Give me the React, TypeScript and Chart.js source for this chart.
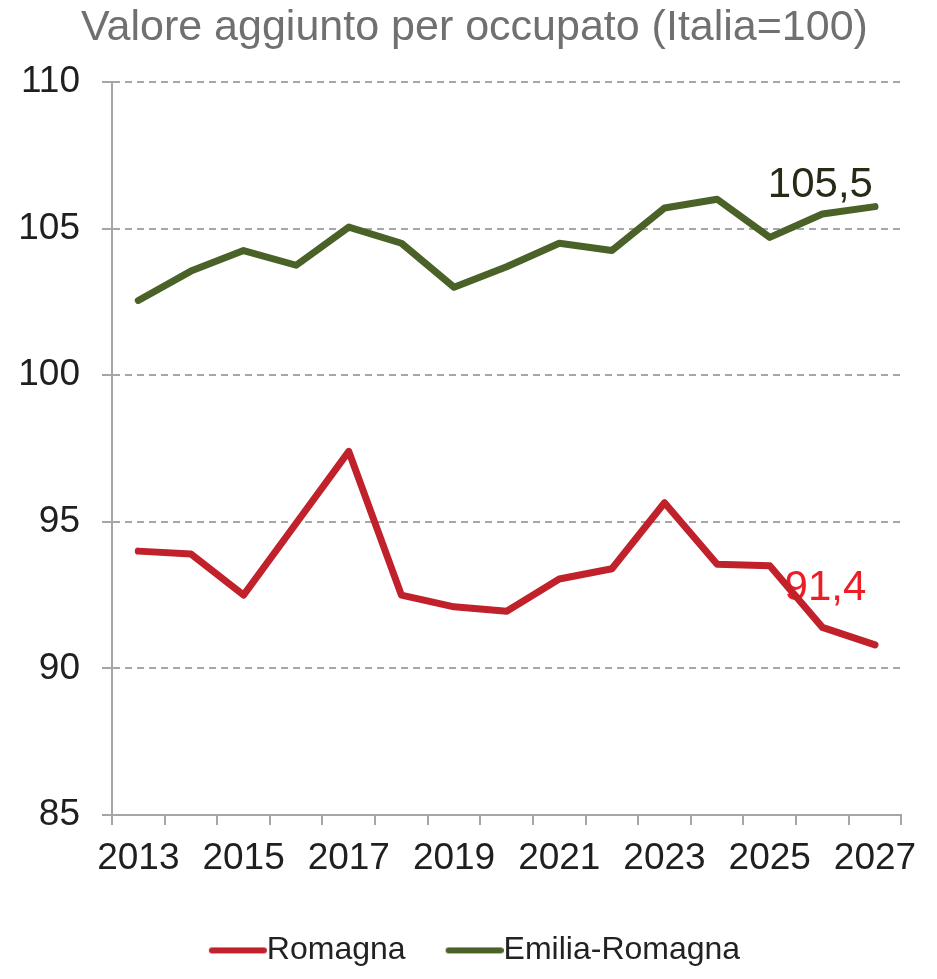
import React, { useEffect, useRef } from 'react';
import { Chart, registerables } from 'chart.js';

Chart.register(...registerables);

// ---- data ----
const years = ['2013', '2014', '2015', '2016', '2017', '2018', '2019', '2020', '2021', '2022', '2023', '2024', '2025', '2026', '2027'];
const romagna = [94.0, 93.9, 92.5, 94.95, 97.4, 92.5, 92.1, 91.95, 93.05, 93.4, 95.65, 93.55, 93.5, 91.4, 90.8];
const emiliaRomagna = [102.55, 103.55, 104.25, 103.75, 105.05, 104.5, 103.0, 103.7, 104.5, 104.25, 105.7, 106.0, 104.7, 105.5, 105.75];
const seriesNames = ['Romagna', 'Emilia-Romagna'];
const yMin = 85;
const yMax = 110;
const yStep = 5;
const titleText = 'Valore aggiunto per occupato (Italia=100)';
const labelYearIndex = 13; // 2026 value labels

// ---- styles ----
const FONT = "'Liberation Sans', Arial, sans-serif";
const RED = '#c0212b';
const GREEN = '#4a6127';
const AXIS_GRAY = '#a6a6a6';
const TEXT = '#1f1f1f';
const LEGEND_SHIFT = 13;

const valueLabels = [
  { dataset: 1, color: '#262b17', dx: -2, dy: -17 },
  { dataset: 0, color: '#ee1c25', dx: 3, dy: -27 },
];

function makeLegendLine(color: string) {
  const c = document.createElement('canvas');
  c.width = 74;
  c.height = 8;
  const g = c.getContext('2d')!;
  g.strokeStyle = color;
  g.lineWidth = 6;
  g.lineCap = 'round';
  g.beginPath();
  g.moveTo(19, 4);
  g.lineTo(71, 4);
  g.stroke();
  return c;
}

const legendShiftPlugin = {
  id: 'legendShift',
  afterLayout(chart: any) {
    const lg = chart.legend;
    if (lg) {
      lg.top += LEGEND_SHIFT;
      lg.bottom += LEGEND_SHIFT;
    }
  },
};

const valueLabelPlugin = {
  id: 'valueLabels',
  beforeDatasetsDraw(chart: any) {
    const { ctx, scales } = chart;
    const x = scales.x;
    const y = scales.y;
    valueLabels.forEach((l) => {
      const v = chart.data.datasets[l.dataset].data[labelYearIndex] as number;
      const px = x.getPixelForValue(labelYearIndex) + l.dx;
      const py = y.getPixelForValue(v) + l.dy;
      ctx.save();
      ctx.font = `42px ${FONT}`;
      ctx.fillStyle = l.color;
      ctx.textAlign = 'center';
      ctx.textBaseline = 'alphabetic';
      ctx.fillText(v.toFixed(1).replace('.', ','), px, py);
      ctx.restore();
    });
  },
};

export default function App() {
  const ref = useRef<HTMLCanvasElement | null>(null);

  useEffect(() => {
    if (!ref.current) return;
    Chart.defaults.font.family = FONT;
    const legendImgs = [makeLegendLine(RED), makeLegendLine(GREEN)];
    const lineStyle = {
      borderWidth: 7,
      borderJoinStyle: 'round',
      borderCapStyle: 'round',
      pointRadius: 0,
      tension: 0,
      fill: false,
    };
    const chart = new Chart(ref.current, {
      type: 'line',
      data: {
        labels: years,
        datasets: [
          { label: seriesNames[0], data: romagna, borderColor: RED, backgroundColor: RED, ...lineStyle },
          { label: seriesNames[1], data: emiliaRomagna, borderColor: GREEN, backgroundColor: GREEN, ...lineStyle },
        ],
      },
      options: {
        responsive: false,
        animation: false,
        devicePixelRatio: 1,
        layout: { padding: { left: 12, right: 0, top: 0, bottom: 7.6 } },
        plugins: {
          title: {
            display: true,
            text: titleText,
            color: '#707070',
            font: { size: 43, weight: 'normal', lineHeight: '40px' },
            padding: { top: 0, bottom: 34 },
          },
          legend: {
            display: true,
            position: 'bottom',
            labels: {
              usePointStyle: true,
              pointStyleWidth: 42,
              padding: 40,
              color: '#222222',
              font: { size: 32 },
              generateLabels: (chart: any) => {
                const base = (Chart.defaults.plugins.legend.labels as any).generateLabels(chart);
                return base.map((it: any, i: number) => ({ ...it, pointStyle: legendImgs[i], fontColor: '#222222' }));
              },
            },
          },
          tooltip: { enabled: false },
        },
        scales: {
          x: {
            type: 'category',
            offset: true,
            afterFit: (scale: any) => {
              scale.height = 66.4;
            },
            grid: {
              offset: true,
              drawOnChartArea: false,
              drawTicks: true,
              tickLength: 10,
              color: AXIS_GRAY,
              lineWidth: 2,
            },
            border: { display: true, color: AXIS_GRAY, width: 2 },
            ticks: {
              autoSkip: false,
              maxRotation: 0,
              minRotation: 0,
              padding: 12,
              color: TEXT,
              font: { size: 37, lineHeight: 1.2 },
              callback: function (this: any, value: any, index: number) {
                return index % 2 === 0 ? this.getLabelForValue(value) : '';
              },
            },
          },
          y: {
            min: yMin,
            max: yMax,
            afterFit: (scale: any) => {
              scale.width = 92;
            },
            grid: {
              color: AXIS_GRAY,
              lineWidth: 2,
              tickLength: 10,
              drawTicks: true,
              tickBorderDash: [],
            },
            border: { display: true, color: AXIS_GRAY, width: 2, dash: [7, 5] },
            ticks: {
              stepSize: yStep,
              padding: 22,
              color: TEXT,
              font: { size: 37, lineHeight: 1.2 },
            },
          },
          yRightSpace: {
            type: 'linear',
            position: 'right',
            display: true,
            afterFit: (scale: any) => {
              scale.width = 25;
            },
            grid: { display: false, drawTicks: false },
            border: { display: false },
            ticks: { display: false },
          },
        },
      },
      plugins: [legendShiftPlugin, valueLabelPlugin],
    } as any);
    return () => chart.destroy();
  }, []);

  return (
    <div style={{ width: 921, height: 963 }}>
      <canvas ref={ref} width={921} height={963} style={{ display: 'block' }} />
    </div>
  );
}
